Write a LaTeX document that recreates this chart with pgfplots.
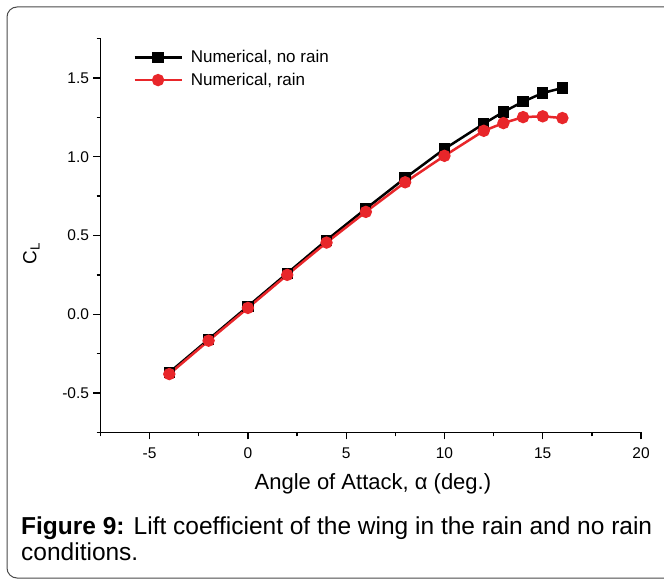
\documentclass[border=0pt]{standalone}
\usepackage{fontspec}
\setmainfont{Liberation Sans}
\usepackage{pgfplots}
\pgfplotsset{compat=1.18}
\definecolor{rainred}{HTML}{E8262A}
\definecolor{framegray}{HTML}{4A4A4A}

% lift coefficient vs angle of attack
\pgfplotstableread{
aoa   cl
-4   -0.370
-2   -0.160
 0    0.050
 2    0.260
 4    0.470
 6    0.670
 8    0.865
10    1.050
12    1.210
13    1.285
14    1.350
15    1.405
16    1.437
}\norain
\pgfplotstableread{
aoa   cl
-4   -0.380
-2   -0.168
 0    0.040
 2    0.250
 4    0.455
 6    0.650
 8    0.838
10    1.006
12    1.165
13    1.214
14    1.252
15    1.257
16    1.246
}\rain

\begin{document}
\begin{tikzpicture}
\useasboundingbox (0pt,0pt) rectangle (664pt,579pt);
\clip (0pt,0pt) rectangle (664pt,579pt);
% rounded frame round the figure and its caption
\draw[line width=1pt, framegray, rounded corners=10pt] (7pt,1pt) rectangle (700pt,572pt);

\begin{axis}[
  at={(100.5pt,146.7pt)}, anchor=south west,
  scale only axis, width=540.5pt, height=393.6pt,
  xmin=-7.5, xmax=20, ymin=-0.75, ymax=1.75,
  axis lines=left, axis line style={-, line width=1.3pt},
  tick align=outside,
  major tick length=7pt, minor tick length=4pt,
  every tick/.style={black, line width=1.3pt},
  xtick={-5,0,5,10,15,20},
  xticklabels={-5,0,5,10,15,20},
  minor xtick={-7.5,-2.5,2.5,7.5,12.5,17.5},
  ytick={-0.5,0,0.5,1.0,1.5},
  yticklabels={-0.5,0.0,0.5,1.0,1.5},
  minor ytick={-0.75,-0.25,0.25,0.75,1.25,1.75},
  ticklabel style={font=\fontsize{15.5}{18}\selectfont},
  xticklabel style={yshift=-5pt},
  yticklabel style={xshift=-1pt},
  xlabel={Angle of Attack, α (deg.)},
  ylabel={C\textsubscript{L}},
  every axis x label/.style={at={(axis description cs:0.504,-0.13)}, anchor=center, font=\fontsize{22}{26}\selectfont},
  every axis y label/.style={at={(axis description cs:-0.128,0.455)}, anchor=center, rotate=90, font=\fontsize{19}{23}\selectfont},
  legend style={at={(axis cs:-5.84,1.69)}, anchor=north west, draw=none, fill=none,
    font=\fontsize{17}{20}\selectfont, row sep=5pt, inner sep=0pt,
    /tikz/every odd column/.append style={column sep=6pt},
    legend cell align=left},
  legend image code/.code={\draw[mark repeat=2,mark phase=2] plot coordinates {(0pt,0pt) (23.5pt,0pt) (47pt,0pt)};},
  clip=false,
]
\addplot[black, line width=2.5pt, mark=square*, mark size=4.4pt, mark options={solid}] table[x=aoa,y=cl] {\norain};
\addlegendentry{Numerical, no rain}
\addplot[rainred, line width=2.5pt, mark=*, mark size=4.9pt, mark options={solid}] table[x=aoa,y=cl] {\rain};
\addlegendentry{Numerical, rain}
\end{axis}

% caption
\node[anchor=base west, inner sep=0pt, font=\fontsize{24.5}{26}\selectfont] at (21pt,45pt) {\textbf{Figure 9:} Lift coefficient of the wing in the rain and no rain};
\node[anchor=base west, inner sep=0pt, font=\fontsize{24.5}{26}\selectfont] at (21pt,19pt) {conditions.};
\end{tikzpicture}
\end{document}
